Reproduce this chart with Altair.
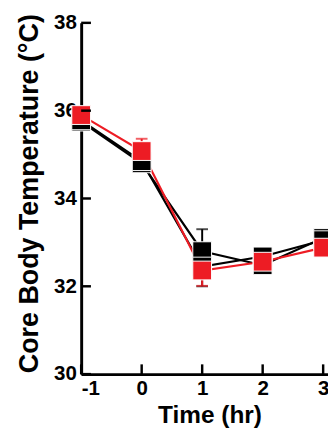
import altair as alt
import pandas as pd

# ---- data ----
times = [-1, 0, 1, 2, 3]
series_names = ["Group A", "Group B", "Group C"]
series_colors = ["#000000", "#000000", "#ED1C24"]
group_a = [35.75, 34.80, 32.80, 32.48, 33.10]
group_a_err = [0.10, 0.10, 0.50, 0.12, 0.10]
group_b = [35.78, 34.85, 32.45, 32.68, 33.05]
group_b_err = [0.10, 0.10, 0.45, 0.18, 0.10]
group_c = [35.90, 35.08, 32.36, 32.56, 32.88]
group_c_err = [0.05, 0.28, 0.35, 0.20, 0.10]
x_ticks = [-1, 0, 1, 2, 3]
y_ticks = [30, 32, 34, 36, 38]

rows = []
for name, vals, errs in [("Group A", group_a, group_a_err),
                         ("Group B", group_b, group_b_err),
                         ("Group C", group_c, group_c_err)]:
    for t, v, e in zip(times, vals, errs):
        rows.append({"series": name, "t": t, "v": v, "lo": v - e, "hi": v + e})
df = pd.DataFrame(rows)

FONT = "Liberation Sans"
xscale = alt.Scale(domain=[-1, 3.08], nice=False, zero=False)
yscale = alt.Scale(domain=[30, 38], nice=False, zero=False)
color = alt.Color("series:N", scale=alt.Scale(domain=series_names, range=series_colors), legend=None)

base = alt.Chart(df)

xaxis = alt.Axis(values=x_ticks, title="Time (hr)", labelPadding=4,
                 labelExpr="'' + datum.value",
                 titleX=131.5, titleY=50, titleAlign="center", titleBaseline="alphabetic",
                 titleFontSize=25)
yaxis = alt.Axis(values=y_ticks, title="Core Body Temperature (°C)", labelPadding=5,
                 labelExpr="'' + datum.value",
                 titleX=-45, titleY=174.5, titleAngle=270, titleAlign="center",
                 titleBaseline="alphabetic", titleFontSize=27.5)

lines = base.mark_line(strokeWidth=2.2).encode(
    x=alt.X("t:Q", scale=xscale, axis=xaxis),
    y=alt.Y("v:Q", scale=yscale, axis=yaxis),
    color=color,
    detail="series:N",
)

err_rule = base.mark_rule(strokeWidth=2).encode(
    x=alt.X("t:Q", scale=xscale),
    y=alt.Y("lo:Q", scale=yscale),
    y2="hi:Q",
    color=color,
)
cap_hi = base.mark_tick(orient="horizontal", size=12, thickness=2).encode(
    x=alt.X("t:Q", scale=xscale),
    y=alt.Y("hi:Q", scale=yscale),
    color=color,
)
cap_lo = base.mark_tick(orient="horizontal", size=12, thickness=2).encode(
    x=alt.X("t:Q", scale=xscale),
    y=alt.Y("lo:Q", scale=yscale),
    color=color,
)

points = base.mark_square(size=370, opacity=1, filled=True, stroke="white", strokeWidth=1).encode(
    x=alt.X("t:Q", scale=xscale),
    y=alt.Y("v:Q", scale=yscale),
    fill=alt.Fill("series:N", scale=alt.Scale(domain=series_names, range=series_colors), legend=None),
)

ytick_df = pd.DataFrame({"v": y_ticks})
xtick_df = pd.DataFrame({"t": x_ticks})
ytick_marks = alt.Chart(ytick_df).mark_rule(strokeWidth=2.5, color="black").encode(
    y=alt.Y("v:Q", scale=yscale), x=alt.value(0), x2=alt.value(10))
xtick_marks = alt.Chart(xtick_df).mark_rule(strokeWidth=2.5, color="black").encode(
    x=alt.X("t:Q", scale=xscale), y=alt.value(360), y2=alt.value(350))

chart = alt.layer(
    lines, err_rule, cap_hi, cap_lo, points, ytick_marks, xtick_marks
).properties(
    width=252.96, height=360,
    autosize=alt.AutoSizeParams(type="none"),
    padding={"left": 75, "top": 10, "right": 0, "bottom": 50},
).configure_view(stroke=None).configure_axis(
    grid=False, ticks=False,
    domainColor="black", domainWidth=3,
    labelFont=FONT, labelFontSize=21, labelFontWeight="bold", labelColor="black",
    titleFont=FONT, titleFontWeight="bold", titleColor="black",
)

chart.save("out.html", embed_options={"renderer": "svg", "actions": False})
